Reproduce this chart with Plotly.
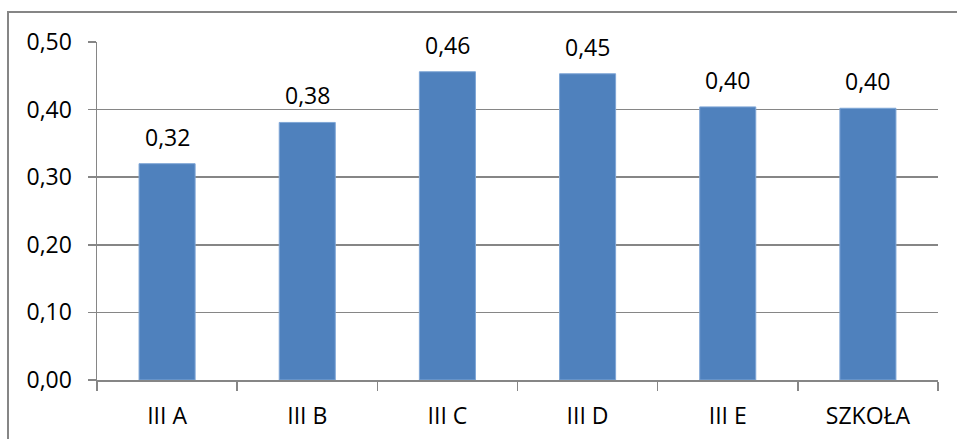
import plotly.graph_objects as go

categories = ["III A", "III B", "III C", "III D", "III E", "SZKOŁA"]
values = [0.320, 0.381, 0.456, 0.453, 0.404, 0.402]
y_ticks = [0.0, 0.1, 0.2, 0.3, 0.4, 0.5]

FONT = "Open Sans"
FS = 23
W, H = 957, 439
ML, MR, MT, MB = 97, 19, 42, 59

fig = go.Figure()
fig.add_trace(go.Bar(
    x=categories, y=values, width=0.4,
    marker=dict(color="#4F81BD", line=dict(color="#7FA6D6", width=1)),
    hoverinfo="skip",
))

for c, v in zip(categories, values):
    fig.add_annotation(x=c, y=v, text=f"{v:.2f}".replace(".", ","),
                       showarrow=False, yanchor="bottom", yshift=9,
                       font=dict(family=FONT, size=FS, color="black"))

pw = W - ML - MR
ph = H - MT - MB
# outer chart frame
fig.add_shape(type="rect", xref="paper", yref="paper",
              x0=(8 - ML) / pw, x1=(W + 10 - ML) / pw,
              y0=(H - MB - (H + 10)) / ph, y1=(H - MB - 12) / ph,
              line=dict(color="#868686", width=2), fillcolor="rgba(0,0,0,0)", layer="below")

fig.update_layout(
    width=W, height=H,
    margin=dict(l=ML, r=MR, t=MT, b=MB, autoexpand=False),
    paper_bgcolor="white", plot_bgcolor="white",
    separators=",.",
    showlegend=False,
    font=dict(family=FONT, size=FS, color="black"),
    bargap=0.6,
)
fig.update_xaxes(
    automargin=False,
    showline=True, linecolor="#868686", linewidth=1.5,
    ticks="outside", tickson="boundaries", ticklen=9, tickcolor="#868686", tickwidth=1.5,
    ticklabelstandoff=15,
    showgrid=False, zeroline=False,
    tickfont=dict(family=FONT, size=FS, color="black"),
)
fig.update_yaxes(
    automargin=False,
    range=[0, 0.5], tickvals=y_ticks, tickformat=".2f",
    showline=True, linecolor="#868686", linewidth=1.5,
    ticks="outside", ticklen=8, tickcolor="#868686", tickwidth=1.5,
    ticklabelstandoff=11,
    showgrid=True, gridcolor="#868686", gridwidth=1.5,
    zeroline=False,
    tickfont=dict(family=FONT, size=FS, color="black"),
)

fig.write_html(
    "out.html",
    config={"displayModeBar": False, "staticPlot": True},
    post_script="document.body.style.margin='0';document.body.style.overflow='hidden';",
)
